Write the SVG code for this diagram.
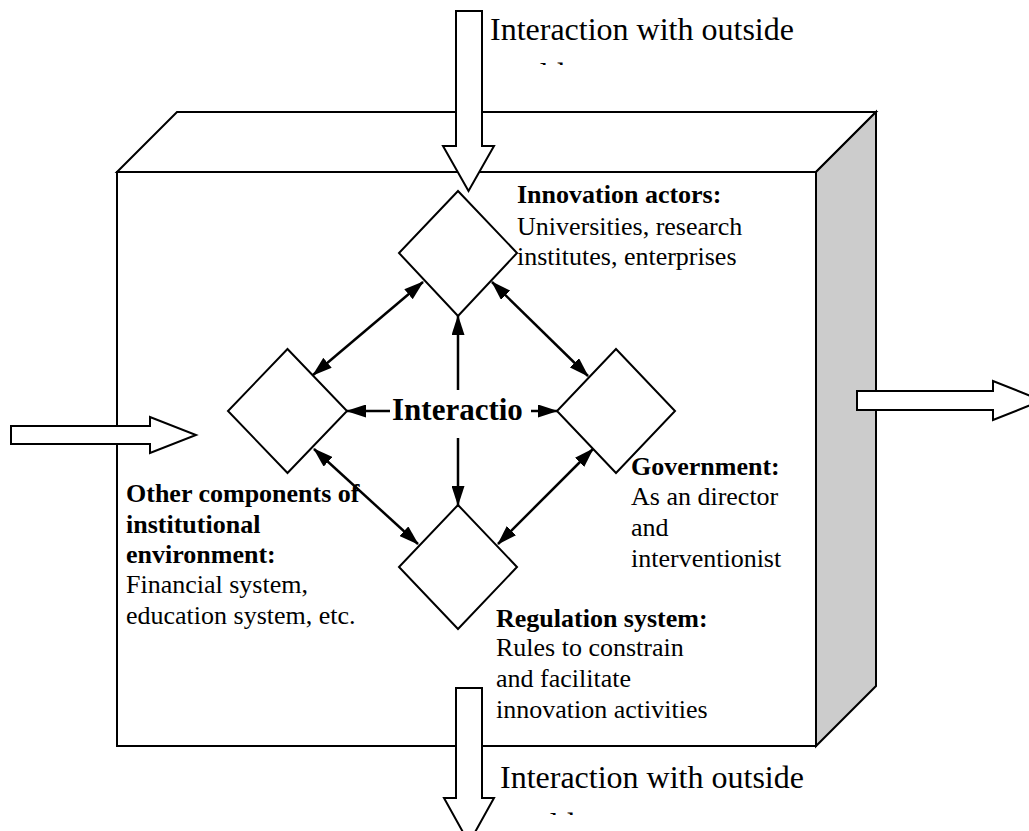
<svg xmlns="http://www.w3.org/2000/svg" width="1029" height="831" viewBox="0 0 1029 831">
  <style>
    .face { fill: #fff; stroke: #000; stroke-width: 2; stroke-linejoin: miter; }
    .side { fill: #cccccc; stroke: #000; stroke-width: 2; stroke-linejoin: miter; }
    .flow { fill: #fff; stroke: #000; stroke-width: 2; stroke-linejoin: miter; }
    .node { fill: #fff; stroke: #000; stroke-width: 2; stroke-linejoin: miter; }
    .link { fill: none; stroke: #000; stroke-width: 2.5; }
    .txt { font-family: "Liberation Serif", "Times New Roman", serif; font-size: 26px; fill: #000; }
    .b { font-weight: bold; }
    .outer { font-family: "Liberation Serif", "Times New Roman", serif; font-size: 32px; fill: #000; }
    .hub { font-family: "Liberation Serif", "Times New Roman", serif; font-size: 31px; font-weight: bold; fill: #000; }
  </style>
  <defs>
    <marker id="head" viewBox="0 0 20 13" markerUnits="userSpaceOnUse" markerWidth="20" markerHeight="13" refX="19" refY="6.5" orient="auto-start-reverse">
      <path d="M0,0 L20,6.5 L0,13 Z" fill="#000"/>
    </marker>
    <clipPath id="clip-top-label"><rect x="470" y="0" width="400" height="65"/></clipPath>
    <clipPath id="clip-bottom-label"><rect x="480" y="750" width="400" height="65"/></clipPath>
  </defs>

  <rect width="1029" height="831" fill="#fff"/>

  <!-- the institutional box, drawn as a 3D block -->
  <g id="system-box">
    <polygon class="face" points="117,172 177,112 876,112 816,172"/>
    <polygon class="side" points="816,172 876,112 876,686 816,746"/>
    <rect class="face" x="117" y="172" width="699" height="574"/>
  </g>

  <!-- exchanges with the outside world -->
  <g id="outside-flows">
    <path id="flow-in-top" class="flow" d="M456,11 H482 V146 H494 L468.5,191 L443,146 H456 Z"/>
    <path id="flow-in-left" class="flow" d="M11,426 H150 V417 L196,435 L150,453 V444 H11 Z"/>
    <path id="flow-out-right" class="flow" d="M857,391 H993 V381 L1042,400.5 L993,420 V410 H857 Z"/>
    <path id="flow-out-bottom" class="flow" d="M456,688 H482 V798 H494 L469,843 L444,798 H456 Z"/>
    <g clip-path="url(#clip-top-label)">
      <text class="outer" x="490" y="40">Interaction with outside</text>
      <text class="outer" x="490" y="85">world</text>
    </g>
    <g clip-path="url(#clip-bottom-label)">
      <text class="outer" x="500" y="788">Interaction with outside</text>
      <text class="outer" x="500" y="835">world</text>
    </g>
  </g>

  <!-- links between the four components -->
  <g id="connectors">
    <line class="link" x1="313" y1="375" x2="423" y2="282" marker-start="url(#head)" marker-end="url(#head)"/>
    <line class="link" x1="492" y1="282" x2="588" y2="376" marker-start="url(#head)" marker-end="url(#head)"/>
    <line class="link" x1="314" y1="449" x2="418" y2="544" marker-start="url(#head)" marker-end="url(#head)"/>
    <line class="link" x1="498" y1="544" x2="593" y2="449" marker-start="url(#head)" marker-end="url(#head)"/>
    <line class="link" x1="458" y1="390" x2="458" y2="316" marker-end="url(#head)"/>
    <line class="link" x1="458" y1="438" x2="458" y2="505" marker-end="url(#head)"/>
    <line class="link" x1="390" y1="411" x2="347" y2="411" marker-end="url(#head)"/>
    <line class="link" x1="531" y1="411" x2="557" y2="411" marker-end="url(#head)"/>
  </g>

  <g id="hub">
    <text class="hub" x="392" y="420">Interactio</text>
  </g>

  <g id="node-innovation-actors">
    <polygon class="node" points="458,191 517,253 458,316 399,253"/>
    <text class="txt b" x="517" y="203">Innovation actors:</text>
    <text class="txt" x="517" y="235">Universities, research</text>
    <text class="txt" x="517" y="265">institutes, enterprises</text>
  </g>

  <g id="node-other-components">
    <polygon class="node" points="287.5,349 347,411 287.5,473 228,411"/>
    <text class="txt b" x="126" y="502">Other components of</text>
    <text class="txt b" x="126" y="533">institutional</text>
    <text class="txt b" x="126" y="563">environment:</text>
    <text class="txt" x="126" y="593">Financial system,</text>
    <text class="txt" x="126" y="624">education system, etc.</text>
  </g>

  <g id="node-government">
    <polygon class="node" points="616,349 675,411 616,473 557,411"/>
    <text class="txt b" x="631" y="475">Government:</text>
    <text class="txt" x="631" y="505">As an director</text>
    <text class="txt" x="631" y="536">and</text>
    <text class="txt" x="631" y="567">interventionist</text>
  </g>

  <g id="node-regulation-system">
    <polygon class="node" points="458,505 517,567 458,629 399,567"/>
    <text class="txt b" x="496" y="627">Regulation system:</text>
    <text class="txt" x="496" y="656">Rules to constrain</text>
    <text class="txt" x="496" y="687">and facilitate</text>
    <text class="txt" x="496" y="718">innovation activities</text>
  </g>
</svg>
